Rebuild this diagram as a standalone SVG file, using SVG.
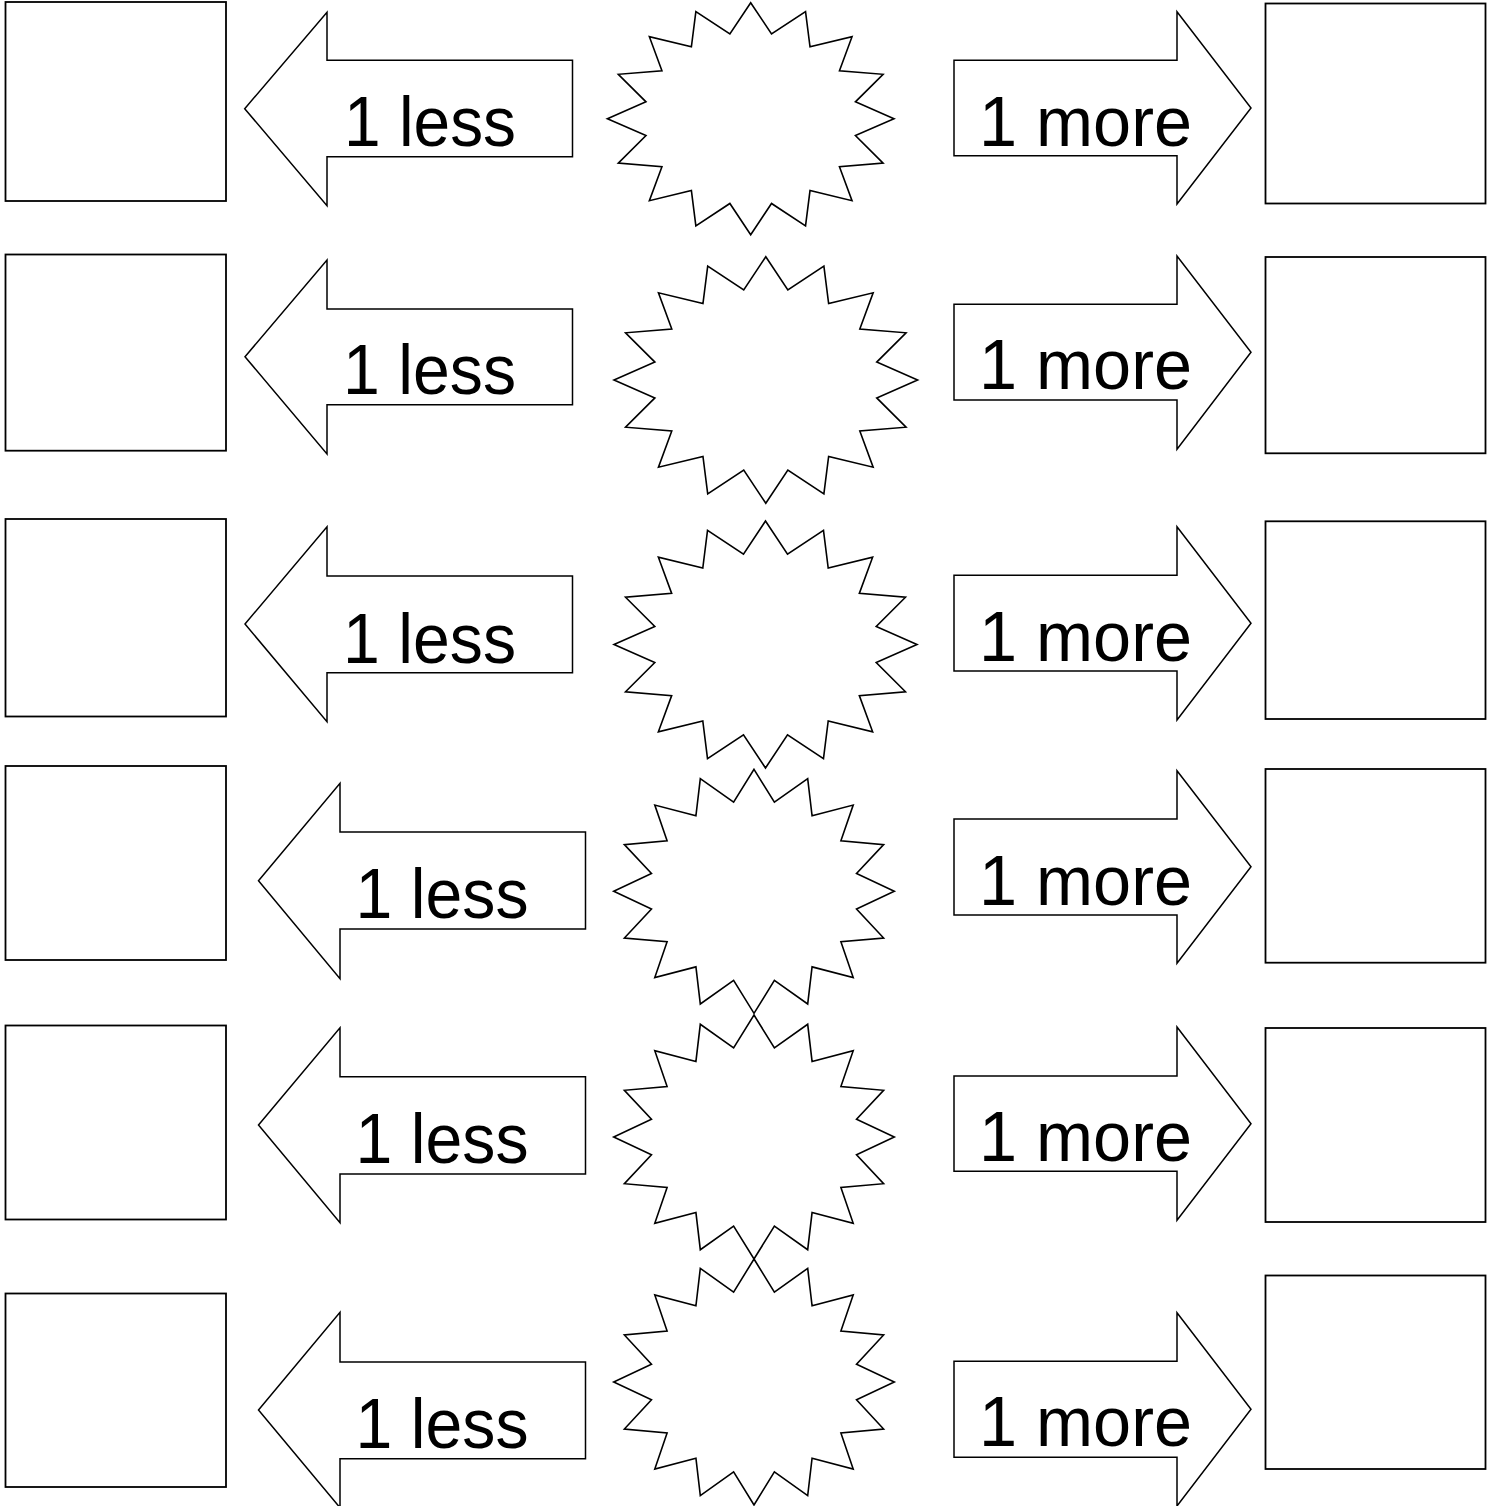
<svg xmlns="http://www.w3.org/2000/svg" xmlns:xlink="http://www.w3.org/1999/xlink" width="1499" height="1506" viewBox="0 0 1499 1506">
<style>
.box{fill:#fff;stroke:#000;stroke-width:1.8}
.arr{fill:#fff;stroke:#000;stroke-width:1.5;stroke-linejoin:miter}
.star{fill:#fff;stroke:#000;stroke-width:1.6;vector-effect:non-scaling-stroke;stroke-linejoin:miter}
.lbl{font-family:"Comic Sans MS","Liberation Sans",Arial,sans-serif;font-size:71px;fill:#000}
</style>
<defs>
<path id="starShape" class="star" d="M0,-100 L14.53,-73.07 L38.27,-92.39 L41.39,-61.94 L70.71,-70.71 L61.94,-41.39 L92.39,-38.27 L73.07,-14.53 L100,0 L73.07,14.53 L92.39,38.27 L61.94,41.39 L70.71,70.71 L41.39,61.94 L38.27,92.39 L14.53,73.07 L0,100 L-14.53,73.07 L-38.27,92.39 L-41.39,61.94 L-70.71,70.71 L-61.94,41.39 L-92.39,38.27 L-73.07,14.53 L-100,0 L-73.07,-14.53 L-92.39,-38.27 L-61.94,-41.39 L-70.71,-70.71 L-41.39,-61.94 L-38.27,-92.39 L-14.53,-73.07 Z"/>
</defs>
<rect width="1499" height="1506" fill="#fff"/>

<g id="left-boxes">
<g id="lbox1"><rect class="box" x="5.5" y="2" width="220.5" height="199"/></g>
<g id="lbox2"><rect class="box" x="5.5" y="254.5" width="220.5" height="196.2"/></g>
<g id="lbox3"><rect class="box" x="5.5" y="519" width="220.5" height="197.5"/></g>
<g id="lbox4"><rect class="box" x="5.5" y="766" width="220.5" height="194"/></g>
<g id="lbox5"><rect class="box" x="5.5" y="1025.5" width="220.5" height="194"/></g>
<g id="lbox6"><rect class="box" x="5.5" y="1293.5" width="220.5" height="193.5"/></g>
</g>

<g id="right-boxes">
<g id="rbox1"><rect class="box" x="1265.5" y="3.5" width="220" height="200"/></g>
<g id="rbox2"><rect class="box" x="1265.5" y="257" width="220" height="196.3"/></g>
<g id="rbox3"><rect class="box" x="1265.5" y="521.3" width="220" height="197.7"/></g>
<g id="rbox4"><rect class="box" x="1265.5" y="769" width="220" height="193.7"/></g>
<g id="rbox5"><rect class="box" x="1265.5" y="1028" width="220" height="194"/></g>
<g id="rbox6"><rect class="box" x="1265.5" y="1275.5" width="220" height="193.5"/></g>
</g>

<g id="connectors">
<g id="less1"><polygon class="arr" points="244.7,108.7 327,12.3 327,60.3 572.5,60.3 572.5,156.7 327,156.7 327,205.7"/><text class="lbl" x="344" y="146" textLength="172" lengthAdjust="spacingAndGlyphs">1 less</text></g>
<g id="less2"><polygon class="arr" points="245,356.7 327,260 327,309 572.5,309 572.5,404.7 327,404.7 327,454"/><text class="lbl" x="343" y="394.3" textLength="173" lengthAdjust="spacingAndGlyphs">1 less</text></g>
<g id="less3"><polygon class="arr" points="245,624 327,526.7 327,576 572.5,576 572.5,672.7 327,672.7 327,721.7"/><text class="lbl" x="343" y="662.7" textLength="173" lengthAdjust="spacingAndGlyphs">1 less</text></g>
<g id="less4"><polygon class="arr" points="258.5,880.7 340,783.3 340,832 585.5,832 585.5,929 340,929 340,978.7"/><text class="lbl" x="355.5" y="918.3" textLength="173" lengthAdjust="spacingAndGlyphs">1 less</text></g>
<g id="less5"><polygon class="arr" points="258.5,1125 340,1027.7 340,1076.7 585.5,1076.7 585.5,1174 340,1174 340,1222.7"/><text class="lbl" x="355.5" y="1163.3" textLength="173" lengthAdjust="spacingAndGlyphs">1 less</text></g>
<g id="less6"><polygon class="arr" points="258.5,1410 340,1312.3 340,1362 585.5,1362 585.5,1458.7 340,1458.7 340,1507.7"/><text class="lbl" x="355.5" y="1448.3" textLength="173" lengthAdjust="spacingAndGlyphs">1 less</text></g>

<g id="more1"><polygon class="arr" points="954,60.3 1177,60.3 1177,11.7 1251,108 1177,204 1177,155.7 954,155.7"/><text class="lbl" x="979" y="145.7" textLength="213" lengthAdjust="spacingAndGlyphs">1 more</text></g>
<g id="more2"><polygon class="arr" points="954,304.3 1177,304.3 1177,256 1251,352.3 1177,449.3 1177,400 954,400"/><text class="lbl" x="979" y="389.3" textLength="213" lengthAdjust="spacingAndGlyphs">1 more</text></g>
<g id="more3"><polygon class="arr" points="954,575.3 1177,575.3 1177,526.7 1251,623.3 1177,720 1177,671 954,671"/><text class="lbl" x="979" y="661" textLength="213" lengthAdjust="spacingAndGlyphs">1 more</text></g>
<g id="more4"><polygon class="arr" points="954,819 1177,819 1177,770.7 1251,866.7 1177,963.3 1177,915 954,915"/><text class="lbl" x="979" y="905" textLength="213" lengthAdjust="spacingAndGlyphs">1 more</text></g>
<g id="more5"><polygon class="arr" points="954,1076 1177,1076 1177,1027 1251,1123.7 1177,1220.3 1177,1171.3 954,1171.3"/><text class="lbl" x="979" y="1161" textLength="213" lengthAdjust="spacingAndGlyphs">1 more</text></g>
<g id="more6"><polygon class="arr" points="954,1361.3 1177,1361.3 1177,1312.7 1251,1409.3 1177,1506 1177,1457.3 954,1457.3"/><text class="lbl" x="979" y="1446" textLength="213" lengthAdjust="spacingAndGlyphs">1 more</text></g>
</g>

<g id="stars">
<g id="star1"><use xlink:href="#starShape" href="#starShape" transform="translate(750.7,118.7) scale(1.433,1.16)"/></g>
<g id="star2"><use xlink:href="#starShape" href="#starShape" transform="translate(765.8,380) scale(1.518,1.233)"/></g>
<g id="star3"><use xlink:href="#starShape" href="#starShape" transform="translate(765.5,644.5) scale(1.515,1.235)"/></g>
<g id="star4"><use xlink:href="#starShape" href="#starShape" transform="translate(754,891.3) scale(1.403,1.22)"/></g>
<g id="star5"><use xlink:href="#starShape" href="#starShape" transform="translate(754,1137) scale(1.403,1.22)"/></g>
<g id="star6"><use xlink:href="#starShape" href="#starShape" transform="translate(754,1382) scale(1.403,1.23)"/></g>
</g>
</svg>
